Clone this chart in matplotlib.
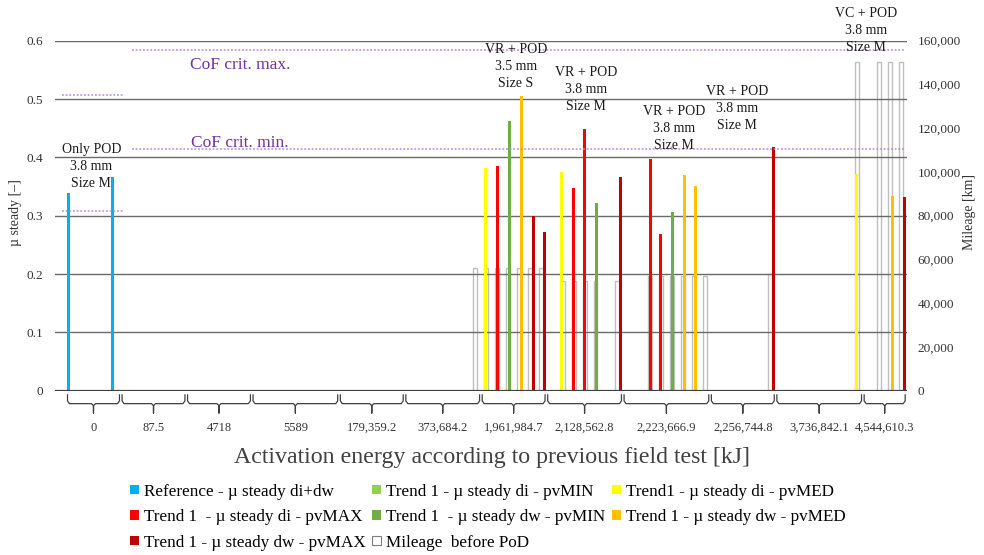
import numpy as np
import matplotlib
matplotlib.use("Agg")
import matplotlib.pyplot as plt
from matplotlib.patches import Patch
from matplotlib.transforms import blended_transform_factory

plt.rcParams['font.family'] = ['Liberation Serif', 'DejaVu Serif']

# ---------------- data ----------------
group_labels = ["0", "87.5", "4718", "5589", "179,359.2", "373,684.2",
                "1,961,984.7", "2,128,562.8", "2,223,666.9", "2,256,744.8",
                "3,736,842.1", "4,544,610.3"]
first_slot = 1
group_slots = [5, 6, 6, 8, 6, 7, 6, 7, 8, 6, 8, 4]   # sub-categories per group
n_slots = 78

series_names = ["Reference - µ steady di+dw",
                "Trend 1 - µ steady di - pvMIN",
                "Trend1 - µ steady di - pvMED",
                "Trend 1  - µ steady di - pvMAX",
                "Trend 1  - µ steady dw - pvMIN",
                "Trend 1 - µ steady dw - pvMED",
                "Trend 1 - µ steady dw - pvMAX"]
series_colors = ["#00B0F0", "#92D050", "#FFFF00", "#FF0000",
                 "#70AD47", "#FFC000", "#C00000"]

ref_cat = [1, 5]
ref_val = [0.339, 0.367]
di_min_cat = []
di_min_val = []
di_med_cat = [39, 46, 73]
di_med_val = [0.381, 0.375, 0.372]
di_max_cat = [40, 47, 48, 54, 55]
di_max_val = [0.385, 0.348, 0.448, 0.397, 0.269]
dw_min_cat = [41, 49, 56]
dw_min_val = [0.462, 0.321, 0.307]
dw_med_cat = [42, 57, 58, 76]
dw_med_val = [0.505, 0.369, 0.351, 0.334]
dw_max_cat = [43, 44, 51, 65, 77]
dw_max_val = [0.300, 0.272, 0.366, 0.417, 0.332]

mileage_name = "Mileage  before PoD"
mileage_cat = [38, 39, 40, 41, 42, 43, 44,
               46, 47, 48, 49, 51,
               54, 55, 56, 57, 58, 59,
               65,
               73, 75, 76, 77]
mileage_val = [56200, 56200, 56200, 56200, 56200, 56200, 56200,
               50100, 50100, 50100, 50100, 50100,
               52400, 52400, 52400, 52400, 52400, 52400,
               53200,
               150100, 150100, 150100, 150100]

crit_ref = (0.308, 0.507)     # CoF limits, reference group
crit_trend = (0.414, 0.584)   # CoF limits, other groups

annotations = [("Only POD\n3.8 mm\nSize M", 0.385),
               ("VR + POD\n3.5 mm\nSize S", 0.555),
               ("VR + POD\n3.8 mm\nSize M", 0.517),
               ("VR + POD\n3.8 mm\nSize M", 0.450),
               ("VR + POD\n3.8 mm\nSize M", 0.483),
               ("VC + POD\n3.8 mm\nSize M", 0.617)]
annot_x = [3.3, 42.2, 48.6, 56.7, 62.5, 74.3]

# ---------------- figure ----------------
W, H = 984, 555
fig = plt.figure(figsize=(W / 100, H / 100), dpi=100)
x0p, x1p, y0p, y1p = 55.3, 906.5, 390.7, 40.7
ax = fig.add_axes([x0p / W, 1 - y0p / H, (x1p - x0p) / W, (y0p - y1p) / H])
ax2 = ax.twinx()

ax.set_xlim(0, n_slots)
ax.set_ylim(0, 0.6)
ax2.set_ylim(0, 160000)

# gridlines
for yv in np.arange(0.1, 0.61, 0.1):
    ax.axhline(yv, color="#6a6a6a", lw=1.0, zorder=1)

# mileage (secondary axis)
ax2.bar(np.array(mileage_cat) + 0.5, mileage_val, width=0.36,
        facecolor="white", edgecolor="#BFBFBF", lw=1.0, zorder=2)

# primary series, clustered with tiny offsets
all_cats = [ref_cat, di_min_cat, di_med_cat, di_max_cat, dw_min_cat, dw_med_cat, dw_max_cat]
all_vals = [ref_val, di_min_val, di_med_val, di_max_val, dw_min_val, dw_med_val, dw_max_val]
nser = len(series_names)
bw = 0.1
for k, (cats, vals, col) in enumerate(zip(all_cats, all_vals, series_colors)):
    if len(cats) == 0:
        continue
    xs = np.array(cats) + 0.5 + (k - (nser - 1) / 2) * bw
    ax.bar(xs, vals, width=0.27, color=col, zorder=3, lw=0)

ax.axhline(0, color="#404040", lw=1.6, zorder=6)

ax.set_zorder(ax2.get_zorder() + 1)
ax.patch.set_visible(False)

for a in (ax, ax2):
    for s in a.spines.values():
        s.set_visible(False)
ax.set_xticks([])
yt = np.round(np.arange(0, 0.61, 0.1), 1)
ax.set_yticks(yt)
ax.set_yticklabels([f"{v:g}" for v in yt])
yt2 = np.arange(0, 160001, 20000)
ax2.set_yticks(yt2)
ax2.set_yticklabels([f"{v:,.0f}" for v in yt2])
ax.tick_params(axis="y", length=0, pad=8.5, labelsize=9.5, labelcolor="#333333")
ax2.tick_params(axis="y", length=0, pad=8, labelsize=9.5, labelcolor="#333333")

# CoF critical lines
bounds = first_slot + np.concatenate([[0], np.cumsum(group_slots)])
purple_line = "#B58AD8"
for yv in crit_ref:
    ax.plot([bounds[0] - 0.4, bounds[1] + 0.3], [yv, yv], ls=(0, (1.2, 1.2)),
            color=purple_line, lw=1.1, zorder=4)
for yv in crit_trend:
    ax.plot([bounds[1] + 1.0, bounds[-1] - 0.1], [yv, yv], ls=(0, (1.2, 1.2)),
            color=purple_line, lw=1.1, zorder=4)
ax.text(16.9, 0.558, "CoF crit. max.", color="#7030A0", fontsize=12.5,
        ha="center", va="center", zorder=5)
ax.text(16.9, 0.424, "CoF crit. min.", color="#7030A0", fontsize=12.5,
        ha="center", va="center", zorder=5)

# annotations
for (txt, yv), xc in zip(annotations, annot_x):
    ax.text(xc, yv, txt, ha="center", va="center", fontsize=10,
            linespacing=1.4, color="#1a1a1a", zorder=7, clip_on=False)

# braces + category labels
tr = blended_transform_factory(ax.transData, ax.transAxes)
ytop, yh, ytick = -0.012, -0.037, -0.064
for i, lab in enumerate(group_labels):
    a, b = bounds[i] + 0.12, bounds[i + 1] - 0.12
    m = (bounds[i] + bounds[i + 1]) / 2
    c = 0.18
    xs = [a, a, a + c, m - c, m, m, m, m + c, b - c, b, b]
    ys = [ytop, yh + 0.008, yh, yh, yh - 0.006, ytick, yh - 0.006, yh, yh, yh + 0.008, ytop]
    ax.plot(xs, ys, color="#404040", lw=0.9, transform=tr, clip_on=False, zorder=6)
    ax.text(m, -0.107, lab, transform=tr, ha="center", va="center",
            fontsize=9, color="#333333")

# axis titles
fig.text(492 / W, 1 - 457 / H, "Activation energy according to previous field test [kJ]",
         ha="center", va="center", fontsize=17.2, color="#404040")
fig.text(15 / W, 1 - 213 / H, "µ steady [–]", rotation=90, ha="center", va="center",
         fontsize=10, color="#333333")
fig.text(970 / W, 1 - 212 / H, "Mileage [km]", rotation=90, ha="center", va="center",
         fontsize=10, color="#333333")

# legend (row-wise order)
handles = [Patch(facecolor=c, edgecolor="none") for c in series_colors]
mh = Patch(facecolor="white", edgecolor="#7f7f7f", lw=0.8)
order = [0, 3, 6, 1, 4, 7, 2, 5]
all_h = handles + [mh]
all_l = series_names + [mileage_name]
fig.legend([all_h[i] for i in order], [all_l[i] for i in order], ncol=3,
           loc="upper left", bbox_to_anchor=(130 / W, 1 - 483.5 / H), frameon=False,
           fontsize=12.3, handlelength=0.5, handleheight=0.5, handletextpad=0.3,
           columnspacing=0.4, labelspacing=0.56, borderpad=0, borderaxespad=0)

fig.savefig("out.png", dpi=100)
